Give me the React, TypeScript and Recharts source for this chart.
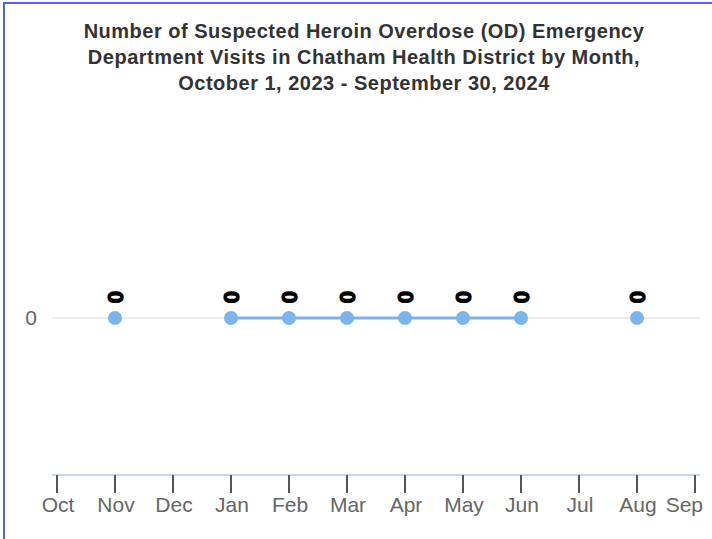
import React from 'react'
import { LineChart, Line, XAxis, YAxis, ReferenceLine, LabelList } from 'recharts'

const months = ['Oct', 'Nov', 'Dec', 'Jan', 'Feb', 'Mar', 'Apr', 'May', 'Jun', 'Jul', 'Aug', 'Sep']
const visits: Array<number | null> = [null, 0, null, 0, 0, 0, 0, 0, 0, null, 0, null]
const yTicks = [0]

const titleLines = [
  'Number of Suspected Heroin Overdose (OD) Emergency',
  'Department Visits in Chatham Health District by Month,',
  'October 1, 2023 - September 30, 2024',
]

const data = months.map((month, i) => ({ month, visits: visits[i] }))

const font = '"Liberation Sans", Arial, sans-serif'

// rotated value label like highcharts dataLabels with rotation -90
function RotatedLabel(props: any) {
  const { x, y, value } = props
  if (value === null || value === undefined) return null
  const cy = y - 21
  return (
    <text
      x={x}
      y={cy}
      transform={`rotate(-90 ${x} ${cy})`}
      textAnchor="middle"
      dominantBaseline="central"
      fontFamily={font}
      fontSize={22}
      fontWeight="bold"
      fill="#000"
      stroke="#000"
      strokeWidth={1.2}
    >
      {value}
    </text>
  )
}

// keep the last label inside the chart like highcharts does
function MonthTick(props: any) {
  const { x, y, payload } = props
  const last = payload.index === months.length - 1
  return (
    <text
      x={last ? 703 : x + 1}
      y={y}
      dy="0.71em"
      textAnchor={last ? 'end' : 'middle'}
      fontFamily={font}
      fontSize={21}
      fill="#666"
    >
      {payload.value}
    </text>
  )
}

export default function App() {
  return (
    <div style={{ position: 'absolute', left: 0, top: 0, width: 712, height: 539, background: '#fff', overflow: 'hidden' }}>
      <div
        style={{
          position: 'absolute',
          left: 3,
          top: 2,
          width: 720,
          height: 560,
          borderTop: '2px solid #4f5ff2',
          borderLeft: '2px solid #4f5ff2',
        }}
      />
      <div
        style={{
          position: 'absolute',
          left: 8,
          top: 18,
          width: 712,
          textAlign: 'center',
          fontFamily: font,
          fontWeight: 'bold',
          fontSize: 20,
          letterSpacing: 0.5,
          lineHeight: '26px',
          color: '#333',
        }}
      >
        {titleLines.map((t) => (
          <div key={t}>{t}</div>
        ))}
      </div>
      <div style={{ position: 'absolute', left: 0, top: 0 }}>
        <LineChart width={712} height={539} data={data} margin={{ top: 161, right: 12, bottom: 0, left: 0 }}>
          <XAxis
            dataKey="month"
            height={64}
            padding={{ left: 5, right: 5 }}
            axisLine={{ stroke: '#ccd6eb', strokeWidth: 2 }}
            tickLine={{ stroke: '#555', strokeWidth: 2 }}
            tickSize={18}
            tickMargin={4}
            interval={0}
            tick={<MonthTick />}
          />
          <YAxis
            domain={[-1, 1]}
            ticks={yTicks}
            width={52}
            axisLine={false}
            tickLine={false}
            tickSize={0}
            tickMargin={15}
            tick={{ fill: '#666', fontSize: 21, fontFamily: font }}
          />
          <ReferenceLine y={0} stroke="#e6e6e6" strokeWidth={1.5} />
          <Line
            dataKey="visits"
            stroke="#7cb5ec"
            strokeWidth={3}
            dot={{ r: 7, fill: '#7cb5ec', stroke: 'none' }}
            connectNulls={false}
            isAnimationActive={false}
          >
            <LabelList dataKey="visits" content={<RotatedLabel />} />
          </Line>
        </LineChart>
      </div>
    </div>
  )
}
